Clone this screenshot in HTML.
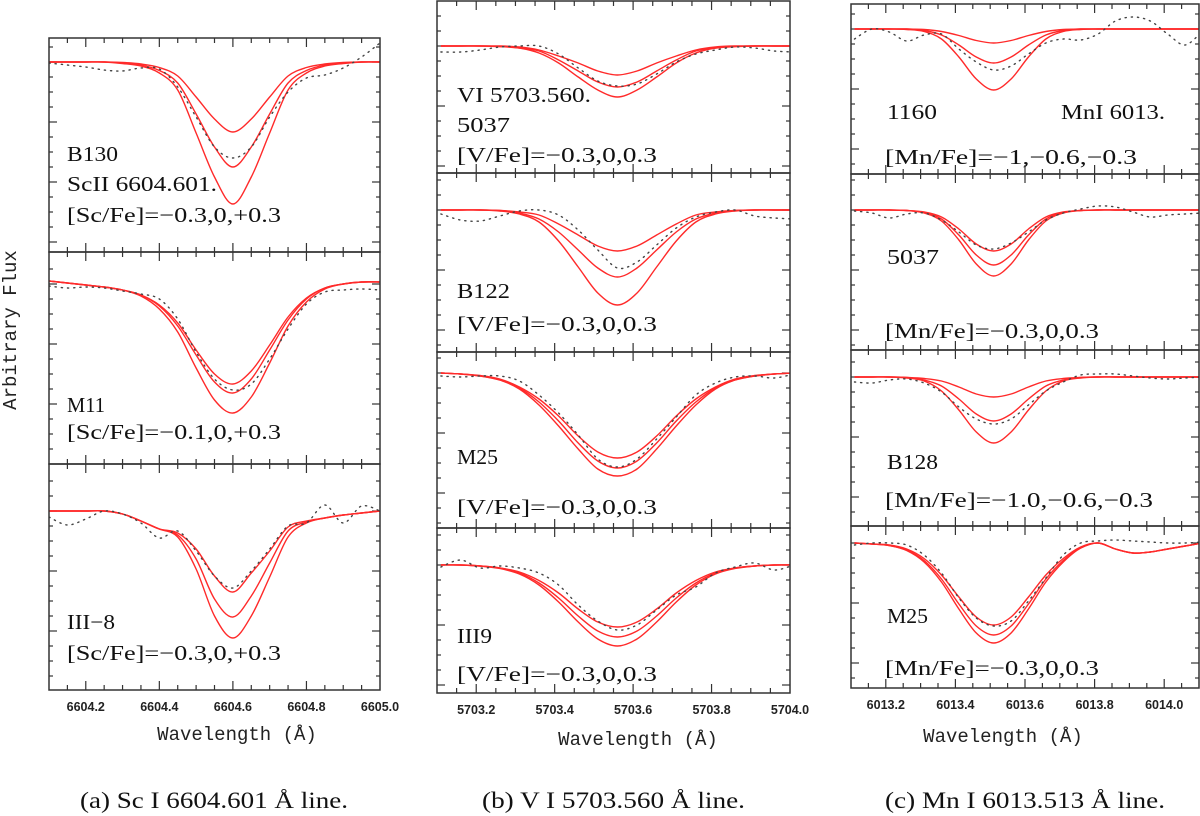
<!DOCTYPE html>
<html><head><meta charset="utf-8"><style>
html,body{margin:0;padding:0;background:#fff;}
svg{display:block;}
.lbl{font-family:"Liberation Serif",serif;font-size:21px;fill:#111;}
.tick{font-family:"Liberation Sans",sans-serif;font-size:12.5px;font-weight:bold;fill:#222;}
.axt{font-family:"Liberation Mono",monospace;font-size:19px;fill:#222;}
.cap{font-family:"Liberation Serif",serif;font-size:23px;fill:#111;}
</style></head><body>
<svg id="fig" width="1200" height="816" viewBox="0 0 1200 816" xmlns="http://www.w3.org/2000/svg">
<g id="layer"></g>
<text class="axt" transform="translate(16,330) rotate(-90)" text-anchor="middle">Arbitrary Flux</text>
<text class="axt" x="237" y="740" text-anchor="middle">Wavelength (Å)</text>
<text class="axt" x="638" y="745" text-anchor="middle">Wavelength (Å)</text>
<text class="axt" x="1003" y="742" text-anchor="middle">Wavelength (Å)</text>
<text class="cap" x="80" y="808" textLength="268" lengthAdjust="spacingAndGlyphs">(a) Sc I 6604.601 Å line.</text>
<text class="cap" x="482" y="808" textLength="263" lengthAdjust="spacingAndGlyphs">(b) V I 5703.560 Å line.</text>
<text class="cap" x="885" y="808" textLength="280" lengthAdjust="spacingAndGlyphs">(c) Mn I 6013.513 Å line.</text>
</svg>
<script>
// ---- data: wavelength grids (Å) ----
const wlA = [6604.10,6604.15,6604.20,6604.25,6604.30,6604.35,6604.40,6604.45,6604.50,6604.55,6604.60,6604.65,6604.70,6604.75,6604.80,6604.85,6604.90,6604.95,6605.00];
const wlB = [5703.11,5703.16,5703.21,5703.26,5703.31,5703.36,5703.41,5703.46,5703.51,5703.56,5703.61,5703.66,5703.71,5703.76,5703.81,5703.86,5703.91,5703.96,5704.01];
const wlC = [6013.11,6013.16,6013.21,6013.26,6013.31,6013.36,6013.41,6013.46,6013.51,6013.56,6013.61,6013.66,6013.71,6013.76,6013.81,6013.86,6013.91,6013.96,6014.01,6014.06,6014.11];
// ---- tick labels ----
const tickLabelsA = ["6604.2","6604.4","6604.6","6604.8","6605.0"];
const tickLabelsB = ["5703.2","5703.4","5703.6","5703.8","5704.0"];
const tickLabelsC = ["6013.2","6013.4","6013.6","6013.8","6014.0"];
// ---- panel (a) Sc ----
const a1Model1 = [1,1,1,1,.999,.996,.989,.972,.93,.886,.86,.886,.93,.972,.989,.996,.999,1,1];
const a1Model2 = [1,1,1,1,.998,.994,.983,.958,.896,.83,.79,.83,.896,.958,.983,.994,.998,1,1];
const a1Model3 = [1,1,1,1,.997,.992,.978,.944,.858,.77,.716,.77,.858,.944,.978,.992,.997,1,1];
const a1Obs    = [.998,.994,.99,.984,.982,.988,.986,.95,.89,.83,.808,.83,.89,.94,.968,.974,.988,1.01,1.038];
const a2Model1 = [1.006,1.002,.998,.994,.988,.978,.958,.922,.868,.82,.80,.826,.878,.934,.972,.992,1,1.004,1.004];
const a2Model2 = [1.006,1.002,.998,.994,.988,.978,.956,.916,.858,.804,.782,.81,.868,.928,.97,.992,1,1.004,1.004];
const a2Model3 = [1.006,1.002,.998,.994,.988,.976,.95,.904,.832,.768,.742,.774,.842,.916,.964,.99,1,1.004,1.004];
const a2Obs    = [.996,.992,.994,.992,.986,.98,.97,.93,.864,.81,.788,.8,.85,.91,.96,.984,.988,.99,.988];
const a3Model1 = [1,1,1,1,.994,.98,.964,.956,.924,.87,.838,.876,.92,.968,.98,.986,.992,.996,1];
const a3Model2 = [1,1,1,1,.994,.98,.964,.952,.904,.824,.788,.83,.896,.96,.978,.986,.992,.996,1];
const a3Model3 = [1,1,1,1,.994,.98,.964,.948,.884,.79,.746,.79,.868,.948,.976,.986,.992,.996,1];
const a3Obs    = [.988,.972,.984,1,.994,.976,.946,.96,.92,.87,.846,.88,.924,.97,.976,1.012,.976,1.01,1];
// ---- panel (b) V ----
const b1Model1 = [1,1,1,1,.998,.992,.98,.966,.95,.942,.95,.966,.98,.992,.998,1,1,1,1];
const b1Model2 = [1,1,1,.999,.996,.99,.972,.95,.928,.918,.928,.95,.972,.99,.996,.999,1,1,1];
const b1Model3 = [1,1,1,.999,.996,.986,.966,.938,.912,.898,.912,.938,.966,.986,.996,.999,1,1,1];
const b1Obs    = [.988,.988,.992,.998,1,1,.984,.956,.93,.92,.924,.944,.968,.984,.992,.998,.996,.99,.988];
const b2Model1 = [1,1,1,.999,.996,.99,.972,.95,.928,.918,.928,.95,.972,.99,.996,.999,1,1,1];
const b2Model2 = [1,1,1,.999,.994,.982,.956,.92,.884,.866,.884,.92,.956,.982,.994,.999,1,1,1];
const b2Model3 = [1,1,1,.998,.992,.976,.938,.886,.834,.81,.834,.886,.938,.976,.992,.998,1,1,1];
const b2Obs    = [.992,.98,.978,.988,.998,1,.99,.96,.92,.884,.896,.93,.964,.986,.996,1,.988,.984,.982];
const b3Model1 = [1,.998,.995,.988,.972,.948,.914,.874,.842,.83,.842,.874,.914,.948,.972,.988,.995,.998,1];
const b3Model2 = [1,.998,.994,.986,.97,.942,.904,.86,.824,.81,.824,.86,.904,.942,.97,.986,.994,.998,1];
const b3Model3 = [1,.998,.994,.986,.968,.936,.894,.848,.808,.794,.808,.848,.894,.936,.968,.986,.994,.998,1];
const b3Obs    = [.994,.992,.994,.994,.984,.956,.92,.876,.828,.812,.828,.868,.912,.956,.98,.992,.994,.99,.998];
const b4Model1 = [1,1,.998,.994,.986,.969,.944,.912,.886,.876,.886,.912,.944,.969,.986,.994,.998,1,1];
const b4Model2 = [1,1,.998,.994,.984,.964,.934,.898,.868,.856,.868,.898,.934,.964,.984,.994,.998,1,1];
const b4Model3 = [1,1,.998,.993,.982,.96,.926,.886,.852,.838,.852,.886,.926,.96,.982,.993,.998,1,1];
const b4Obs    = [.996,1.01,.994,.998,.994,.984,.96,.92,.888,.87,.88,.91,.94,.956,.984,.996,1.004,.99,1];
// ---- panel (c) Mn ----
const c1Model1 = [1,1,1,1,.999,.995,.987,.977,.972,.977,.987,.995,.999,1,1,1,1,1,1,1,1];
const c1Model2 = [1,1,1,1,.997,.988,.968,.944,.932,.944,.968,.988,.997,1,1,1,1,1,1,1,1];
const c1Model3 = [1,1,1,.999,.995,.98,.944,.9,.878,.9,.944,.98,.995,.999,1,1,1,1,1,1,1];
const c1Obs    = [.98,1,.994,.976,.988,.99,.96,.934,.918,.926,.95,.972,.98,.978,.99,1.016,1.024,1.016,.99,.968,.996];
const c2Model1 = [1,1,1,.999,.996,.986,.962,.932,.918,.932,.962,.986,.996,.999,1,1,1,1,1,1,1];
const c2Model2 = [1,1,1,.999,.995,.982,.95,.91,.89,.91,.95,.982,.995,.999,1,1,1,1,1,1,1];
const c2Model3 = [1,1,1,.999,.994,.978,.94,.892,.868,.892,.94,.978,.994,.999,1,1,1,1,1,1,1];
const c2Obs    = [.998,.994,.984,.992,.994,.98,.956,.93,.922,.934,.956,.98,.994,1.002,1.008,1.006,.996,.986,.99,.992,.994];
const c3Model1 = [1,1,1,.999,.997,.992,.98,.966,.96,.966,.98,.992,.997,.999,1,1,1,1,1,1,1];
const c3Model2 = [1,1,1,.999,.994,.982,.956,.926,.912,.926,.956,.982,.994,.999,1,1,1,1,1,1,1];
const c3Model3 = [1,1,1,.998,.992,.972,.934,.89,.868,.89,.934,.972,.992,.998,1,1,1,1,1,1,1];
const c3Obs    = [.99,.988,.994,.996,.988,.97,.94,.916,.906,.916,.944,.972,.99,1.004,1.006,1.006,1.002,.998,.996,.998,1];
const c4Model1 = [1,.998,.996,.988,.969,.936,.892,.852,.836,.852,.892,.936,.969,.992,1,.988,.98,.982,.988,.994,1];
const c4Model2 = [1,.998,.995,.986,.965,.928,.878,.834,.816,.834,.878,.928,.965,.99,1,.988,.98,.982,.988,.994,1];
const c4Model3 = [1,.998,.995,.985,.962,.922,.868,.82,.8,.82,.868,.922,.962,.99,1,.988,.98,.982,.988,.994,1];
const c4Obs    = [.996,1,1,.996,.976,.94,.89,.85,.834,.844,.884,.93,.976,1,1.004,1.006,1.004,1.002,1,1,1.002];

// ---- layout ----
const NS = "http://www.w3.org/2000/svg";
const layer = document.getElementById('layer');
const columns = [
  {id:'a', x0:49, x1:380, wmin:6604.1, wmax:6605.0, wl:wlA, ticks:tickLabelsA, tickY:707,
   panels:[
    {id:'a1', y0:38, y1:252, fTop:1.048, fBot:0.62, m:[a1Model1,a1Model2,a1Model3], o:a1Obs,
     labels:[["B130",67,161,51],["ScII 6604.601.",67,191,150],["[Sc/Fe]=−0.3,0,+0.3",67,222,214]]},
    {id:'a2', y0:252, y1:464, fTop:1.064, fBot:0.64, m:[a2Model1,a2Model2,a2Model3], o:a2Obs,
     labels:[["M11",67,412,38],["[Sc/Fe]=−0.1,0,+0.3",67,439,214]]},
    {id:'a3', y0:464, y1:690, fTop:1.094, fBot:0.642, m:[a3Model1,a3Model2,a3Model3], o:a3Obs,
     labels:[["III−8",67,629,48],["[Sc/Fe]=−0.3,0,+0.3",67,660,214]]}
  ]},
  {id:'b', x0:437, x1:790, wmin:5703.1, wmax:5704.0, wl:wlB, ticks:tickLabelsB, tickY:710,
   panels:[
    {id:'b1', y0:1, y1:173, fTop:1.09, fBot:0.746, m:[b1Model1,b1Model2,b1Model3], o:b1Obs,
     labels:[["VI 5703.560.",457,102,134],["5037",457,132,53],["[V/Fe]=−0.3,0,0.3",457,162,200]]},
    {id:'b2', y0:173, y1:352, fTop:1.074, fBot:0.716, m:[b2Model1,b2Model2,b2Model3], o:b2Obs,
     labels:[["B122",457,298,53],["[V/Fe]=−0.3,0,0.3",457,331,200]]},
    {id:'b3', y0:352, y1:528, fTop:1.042, fBot:0.69, m:[b3Model1,b3Model2,b3Model3], o:b3Obs,
     labels:[["M25",457,464,41],["[V/Fe]=−0.3,0,0.3",457,514,200]]},
    {id:'b4', y0:528, y1:693, fTop:1.074, fBot:0.744, m:[b4Model1,b4Model2,b4Model3], o:b4Obs,
     labels:[["III9",457,643,35],["[V/Fe]=−0.3,0,0.3",457,681,200]]}
  ]},
  {id:'c', x0:851, x1:1199, wmin:6013.1, wmax:6014.1, wl:wlC, ticks:tickLabelsC, tickY:705,
   panels:[
    {id:'c1', y0:4, y1:174, fTop:1.05, fBot:0.71, m:[c1Model1,c1Model2,c1Model3], o:c1Obs,
     labels:[["1160",887,119,50],["MnI 6013.",1061,119,104],["[Mn/Fe]=−1,−0.6,−0.3",885,164,252]]},
    {id:'c2', y0:174, y1:350, fTop:1.072, fBot:0.72, m:[c2Model1,c2Model2,c2Model3], o:c2Obs,
     labels:[["5037",887,264,52],["[Mn/Fe]=−0.3,0,0.3",885,338,214]]},
    {id:'c3', y0:350, y1:526, fTop:1.054, fBot:0.702, m:[c3Model1,c3Model2,c3Model3], o:c3Obs,
     labels:[["B128",887,469,51],["[Mn/Fe]=−1.0,−0.6,−0.3",885,507,268]]},
    {id:'c4', y0:526, y1:688, fTop:1.034, fBot:0.71, m:[c4Model1,c4Model2,c4Model3], o:c4Obs,
     labels:[["M25",887,623,41],["[Mn/Fe]=−0.3,0,0.3",885,675,214]]}
  ]}
];

function mk(tag, attrs, parent){
  const e = document.createElementNS(NS, tag);
  for (const k in attrs) e.setAttribute(k, attrs[k]);
  (parent||layer).appendChild(e);
  return e;
}
function smoothPath(pts){
  let d = 'M' + pts[0][0].toFixed(2) + ',' + pts[0][1].toFixed(2);
  for (let i=0;i<pts.length-1;i++){
    const p0 = pts[Math.max(0,i-1)], p1 = pts[i], p2 = pts[i+1], p3 = pts[Math.min(pts.length-1,i+2)];
    const c1x = p1[0] + (p2[0]-p0[0])/6, c1y = p1[1] + (p2[1]-p0[1])/6;
    const c2x = p2[0] - (p3[0]-p1[0])/6, c2y = p2[1] - (p3[1]-p1[1])/6;
    d += ' C' + c1x.toFixed(2)+','+c1y.toFixed(2)+' '+c2x.toFixed(2)+','+c2y.toFixed(2)+' '+p2[0].toFixed(2)+','+p2[1].toFixed(2);
  }
  return d;
}

const defs = mk('defs', {});
columns.forEach(col => {
  const xs = w => col.x0 + (w - col.wmin) / (col.wmax - col.wmin) * (col.x1 - col.x0);
  const g = mk('g', {});
  
  
  col.panels.forEach((p, pi) => {
    const ys = f => p.y0 + (p.fTop - f) / (p.fTop - p.fBot) * (p.y1 - p.y0);
    const pg = mk('g', {}, g);
    
    
    const cp = mk('clipPath', {id:'clip-'+p.id}, defs);
    mk('rect', {x:col.x0, y:p.y0, width:col.x1-col.x0, height:p.y1-p.y0}, cp);
    const tg = mk('g', {stroke:'#333','stroke-width':1.2}, pg);
    
    
    let k = 0;
    for (let f = 0.40; f <= 1.30; f += 0.03, k++){
      const y = ys(f);
      if (y <= p.y0 + 3 || y >= p.y1 - 3) continue;
      const len = (k % 4 === 0) ? 8 : 4;
      mk('line', {x1:col.x0, x2:col.x0+len, y1:y, y2:y}, tg);
      mk('line', {x1:col.x1, x2:col.x1-len, y1:y, y2:y}, tg);
    }
    const xg = mk('g', {stroke:'#333','stroke-width':1.2}, pg);
    
    
    const nT = Math.round((col.wmax - col.wmin) / 0.05);
    for (let i = 1; i < nT; i++){
      const w = col.wmin + i * 0.05;
      const x = xs(w);
      const major = Math.abs(Math.round(w*5) - w*5) < 1e-6;
      const len = major ? 9 : 5;
      mk('line', {x1:x, x2:x, y1:p.y0, y2:p.y0+len}, xg);
      mk('line', {x1:x, x2:x, y1:p.y1, y2:p.y1-len}, xg);
    }
    const cg = mk('g', {'clip-path':'url(#clip-'+p.id+')', fill:'none'}, pg);
    p.m.forEach((arr, mi) => {
      const pts = arr.map((v, i) => [xs(col.wl[i]), ys(v)]);
      const path = mk('path', {d:smoothPath(pts), stroke:'#ff2a2a', 'stroke-width':1.4}, cg);
      
      
    });
    const opts = p.o.map((v, i) => [xs(col.wl[i]), ys(v)]);
    const op = mk('path', {d:smoothPath(opts), stroke:'#444', 'stroke-width':1.4, 'stroke-dasharray':'1.2 5', 'stroke-linecap':'round'}, cg);
    
    
    const fr = mk('rect', {x:col.x0, y:p.y0, width:col.x1-col.x0, height:p.y1-p.y0, fill:'none', stroke:'#333', 'stroke-width':1.5}, pg);
    
    
    p.labels.forEach((L, li) => {
      const t = mk('text', {class:'lbl', x:L[1], y:L[2], textLength:L[3], lengthAdjust:'spacingAndGlyphs'}, pg);
      t.textContent = L[0];
      
      
    });
  });
  col.ticks.forEach(lab => {
    const t = mk('text', {class:'tick', x:xs(parseFloat(lab)), y:col.tickY+4, 'text-anchor':'middle'}, g);
    t.textContent = lab;
    
    
  });
});
</script>
</body></html>
